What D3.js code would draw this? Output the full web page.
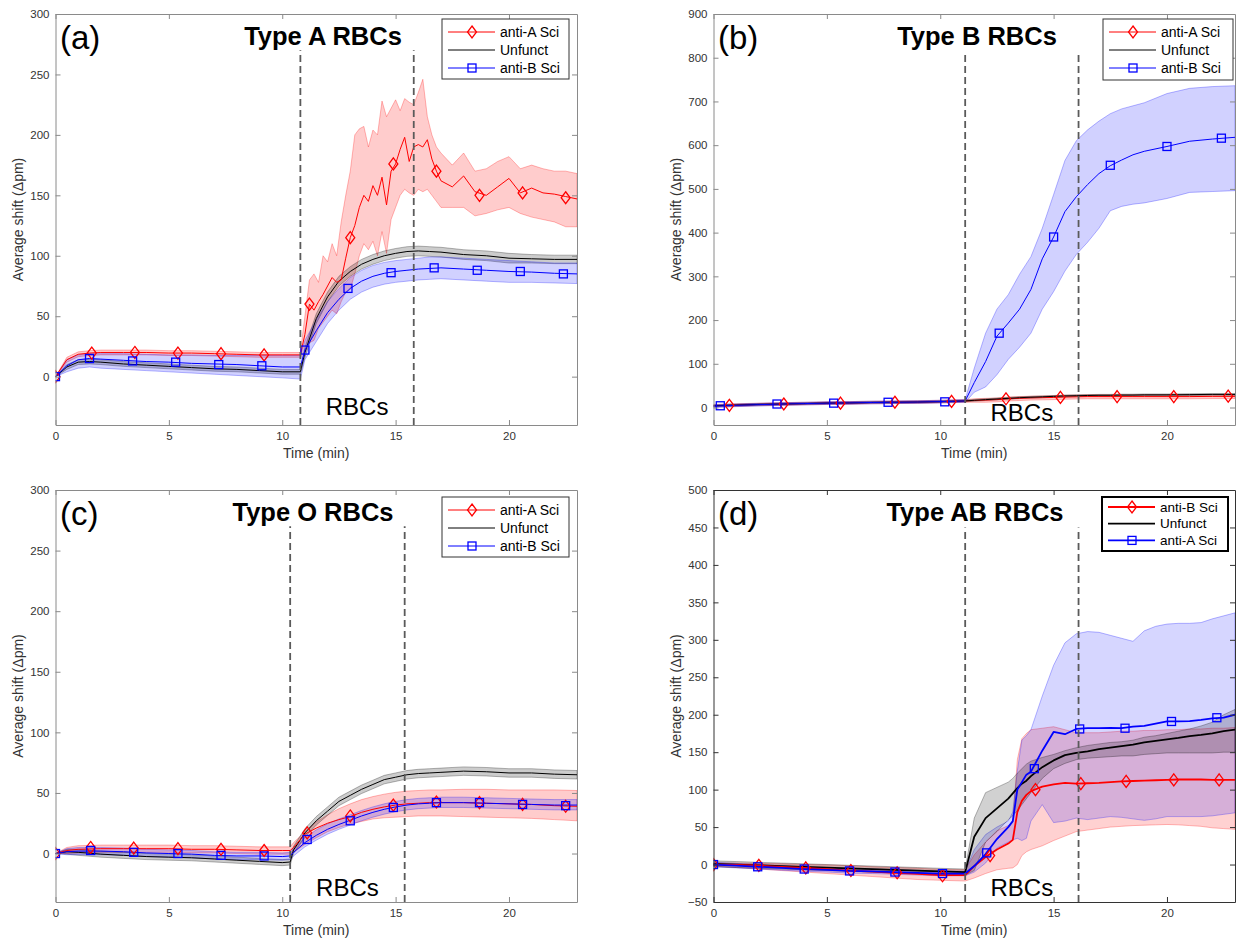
<!DOCTYPE html>
<html>
<head>
<meta charset="utf-8">
<script src="https://cdn.jsdelivr.net/npm/d3@7"></script>
<style>
body { margin: 0; background: #fff; }
text { font-family: "Liberation Sans", Arial, Helvetica, sans-serif; }
</style>
</head>
<body>
<svg id="fig" width="1236" height="940"></svg>
<script>

// ---------- panel (a) : Type A RBCs ----------
var tA = [0,0.5,1,1.5,2,3,4,5,6,7,8,9,10,10.8,11,11.5,12,12.5,13,13.5,14,14.5,15,15.5,16,16.5,17,18,19,20,21,22,23]
var aBlackMean = [0,8,12,12.5,12,10.5,9.5,8.5,7.5,6.5,6,5,4,4,20,48,66,79,87,93,97,100,102,103.5,104,103.5,103,101,100,98,97.5,97,97]
var aBlackLo = [0,6,10,10.5,10,8.5,7.5,6.5,5.5,4.5,4,3,2,2,16,44,62,75,83,89,93,96,98,99.5,100,99.5,99,97,96,94,94,93.5,93.5]
var aBlackHi = [0,10,14,14.5,14,12.5,11.5,10.5,9.5,8.5,8,7,6,6,24,52,70,83,91,97,101,104,106,107.5,108,107.5,107,105,104,102,101,100.5,100.5]
var aBlueMean = [0,9,14,15,14.5,13.5,12.5,12,11,10.5,10,9,8,8,22,38,53,64,73,79,83,85.5,87,88,89,89.5,90,89,88,87,86.5,85.5,85]
var aBlueLo = [0,4,7,8,7,6,5,4,3,2,1,0,-1,-2,14,29,44,55,64,70,74,76.5,78,79,80,80.5,81,80,79,78,78,77.5,77]
var aBlueHi = [0,14,18,19,19,19,18.5,18,18,17.5,17.5,17.5,17.5,17.5,30,47,62,73,82,88,92,94.5,96,97,98,99,99,98,97,96,95,94,94]

var tAr = [0,0.5,1,1.5,2,3,4,5,6,7,8,9,10,10.8,
  11,11.2,11.4,11.6,11.8,12,12.2,12.4,12.6,12.8,13,13.2,13.4,13.6,13.8,14,14.2,14.4,14.6,14.8,15,15.2,15.4,15.6,15.8,16,16.2,16.4,16.6,16.8,17,
  17.5,18,18.5,19,19.5,20,20.5,21,21.5,22,22.5,23]
var aRedMean = [0,14,18.5,19.5,20,20,20,19.5,19.5,19,18.5,18,18,18,
  35,60,55,62,68,75,82,78,80,98,115,125,140,150,145,158,150,165,142,170,176,188,198,178,190,192,190,196,180,170,162,
  157,166,153,150,157,164,152,156,152,151,149,147]
var aRedLo = [0,12,16.5,17.5,18,18,18,17.5,17.5,17,16.5,16,16,16,
  20,28,30,40,45,50,55,52,62,70,72,85,100,110,105,112,100,120,102,130,140,150,155,152,150,155,153,155,150,145,140,
  140,140,133,135,138,140,135,132,130,128,124,124]
var aRedHi = [0,16,20.5,21.5,22,22,22,21.5,21.5,21,20.5,20,20,20,
  50,80,85,78,100,95,110,100,128,150,170,200,205,207,190,204,200,228,215,222,229,220,230,227,225,235,246,215,200,190,185,
  175,185,170,172,178,182,172,175,172,170,170,168]

var aRedMarks = [[0,0],[1.6,19.5],[3.5,20],[5.4,19.5],[7.3,19],[9.2,18],[11.2,60],[13.0,115],[14.9,176],[16.8,170],[18.7,150],[20.6,152],[22.5,148]]
var aBlueMarks = [[0,0],[1.5,15],[3.4,13],[5.3,12],[7.2,10],[9.1,9],[11.0,22],[12.9,73],[14.8,86],[16.7,90],[18.6,88],[20.5,87],[22.4,85]]

// ---------- panel (b) : Type B RBCs ----------
var tB = [0,1,2,3,4,5,6,7,8,9,10,11.1,11.5,12,12.5,13,13.5,14,14.5,15,15.5,16,16.5,17,17.5,18,18.5,19,20,21,22,23]
var bBlueMean = [3,5,6.5,8,9,10,10.5,11.5,12,12.5,13.5,15,57,105,163,193,225,270,340,390,448,482,510,535,553,566,578,586,597,609,614,618]
var bBlueLo = [0,2,3.5,5,6,7,7.5,8.5,9,9.5,10.5,12,35,47,75,110,138,170,225,265,312,350,378,410,450,460,465,468,478,492,494,496]
var bBlueHi = [6,8,9.5,11,12,13,13.5,14.5,15,15.5,16.5,18,90,170,225,258,305,345,410,487,565,610,635,655,672,683,690,697,718,730,734,736]
var bRedMean = [4,5.5,7,8,9,10,10.5,11.5,12,12.5,13.5,15,16,17,18,20,21,22,22.5,23,24,24.5,25,25,25,25,25,25,25,25,25.5,25.5]
var bRedLo = [1,2.5,4,5,6,7,7.5,8.5,9,9.5,10.5,12,12,12,13,15,16,17,17.5,18,19,19.5,20,20,20,20,20,20,20,20,20.5,20.5]
var bRedHi = [7,8.5,10,11,12,13,13.5,14.5,15,15.5,16.5,18,20,21,22,24,25,26,26.5,27,28,28.5,29,29,29,29,29,29,29,29,29.5,29.5]
var bBlackMean = [4,5.5,7,8,9,10,10.5,11.5,12,12.5,13.5,15,16.5,18,19.5,21,22.5,23.5,24.5,25.5,26.5,27,27.5,28,28,28.5,28.5,29,29,29.5,30,30]
var bBlackLo = [2,3.5,5,6,7,8,8.5,9.5,10,10.5,11.5,13,14.5,16,17.5,19,20.5,21.5,22.5,23.5,24.5,25,25.5,26,26,26.5,26.5,27,27,27.5,28,28]
var bBlackHi = [6,7.5,9,10,11,12,12.5,13.5,14,14.5,15.5,17,18.5,20,21.5,23,24.5,25.5,26.5,27.5,28.5,29,29.5,30,30,30.5,30.5,31,31,31.5,32,32]

var bRedMarks = [[0.7,5],[3.1,8],[5.6,10],[8.0,12],[10.5,14],[12.9,20],[15.3,23],[17.8,25],[20.3,25],[22.7,26]]
var bBlueMarks = [[0.3,4],[2.8,8],[5.3,10],[7.7,12],[10.2,13],[12.6,170],[15.0,390],[17.5,554],[20.0,597],[22.4,616]]

// ---------- panel (c) : Type O RBCs ----------
var tC = [0,0.5,1,2,3,4,5,6,7,8,9,10,10.35,10.5,11,11.5,12,12.5,13,13.5,14,14.5,15,15.5,16,16.5,17,18,19,20,21,22,23]
var cBlackMean = [0,1.5,1,-0.5,-1.5,-2.5,-3,-3.5,-4.5,-5.5,-6.5,-7.5,-7,3,17,27,35,43,48,53,57,61,63,65,66,66.5,67,68,67.5,66.5,66.5,65.5,65]
var cBlackLo = [0,-0.5,-1.5,-3,-4,-5,-5.5,-6,-7,-8,-9,-10,-9.5,0,13.5,23.5,31.5,39.5,44.5,49.5,53.5,57.5,59.5,61.5,62.5,63,63.5,64.5,64,63,63,62,61.5]
var cBlackHi = [0,3.5,3.5,2,1,0,-0.5,-1,-2,-3,-4,-5,-4.5,6,20.5,30.5,38.5,46.5,51.5,56.5,60.5,64.5,66.5,68.5,69.5,70,70.5,71.5,71,70,70,69,68.5]
var cRedMean = [0,2.5,3.5,4,4,4,4,3.5,3.5,3,2.5,2.5,2.5,5,16,21,25,28,30.5,34,36.5,38.5,40,41,41.5,42,42,42,41.5,41,40.5,39.5,39]
var cRedLo = [0,0,0.5,1,1,1,1,0.5,0.5,0,-0.5,-0.5,-0.5,1,7.5,13,18,21.5,24.5,26.5,28.5,29.5,30,30.5,31,31,31,30.5,30,29.5,29,28,27]
var cRedHi = [0,5,6.5,7,7,7,7,6.5,6.5,6,5.5,5.5,5.5,9,18,26,32,37,41,44.5,47,49,50.5,51.5,52,52.5,52.5,53,53,52.5,52.5,52.5,52]
var cBlueMean = [0,1.5,2,2,1.5,0.5,0,-0.5,-1.5,-2,-2,-2.5,-2,1,9,15,20,24,27.5,31,34,36.5,38.5,40,41,41.5,42,42,41.5,41,40.5,40,40]
var cBlueLo = [0,-1,-1,-1,-1.5,-2.5,-3,-3.5,-4.5,-5,-5,-5.5,-5,-2,5.5,11,16,20,23.5,27,30,32.5,34.5,36,37,37.5,38,38,37.5,37,36.5,36,36]
var cBlueHi = [0,4,5,5,4.5,3.5,3,2.5,1.5,1,1,0.5,1,4,13,19.5,24.5,28.5,32,35.5,38.5,41,43,44.5,45.5,46,46.5,46.5,46,45.5,45,44.5,44.5]

var cRedMarks = [[0,0],[1.55,5],[3.45,4.5],[5.4,4],[7.3,3.5],[9.2,2.5],[11.1,17],[13.0,31],[14.9,40],[16.8,42.5],[18.7,42],[20.6,40.5],[22.5,39]]
var cBlueMarks = [[0,0],[1.55,2.5],[3.45,1],[5.4,0],[7.3,-1.5],[9.2,-2],[11.1,11.6],[13.0,27],[14.9,38],[16.8,42],[18.7,42],[20.6,40.5],[22.5,39.5]]

// ---------- panel (d) : Type AB RBCs ----------
var tD = [0,1,2,3,4,5,6,7,8,9,10,11.1,11.5,12,12.5,13,13.2,13.4,13.6,13.8,14,14.5,15,15.5,16,16.5,17,17.5,18,18.5,19,19.5,20,20.5,21,21.5,22,22.5,23]
var dBlackMean = [1,0,-1,-2,-3,-4,-5,-6,-7,-8,-9,-10,37,62,75,88,95,102,108,112,118,130,139,146,149,151,154,156,158,160,163,165,167,169,171.5,173,175,178,180]
var dBlackLo = [-3,-4,-5,-6,-7,-8,-9,-10,-11,-12,-13,-14,-8,30,44,60,65,72,80,88,96,115,128,135,140,142,143,144,145,145,147,148,149,149,149,149,149,150,150]
var dBlackHi = [5,4,3,2,1,0,-1,-2,-3,-4,-5,-6,62,96,103,110,115,122,128,134,138,143,147,152,156,159,161,163,164,166,170,172,175,178,181,185,190,200,207]
var dRedMean = [0,-0.5,-1.5,-3,-4.5,-6,-8,-9.5,-11,-12.5,-14,-14,-2,10,20,28,33,70,85,93,98,104,107,109,108,108.5,109,110,111,111.5,112,112.5,113,113.5,113.5,113.5,113,113,113]
var dRedLo = [-2,-4,-6,-8,-10,-12,-14,-16,-18,-20,-21,-22,-18,-12,-7,-5,-4.5,0,12,17,20,25,32,38,44,46,48,50,51,52,52.5,53,53.5,53,52,51,49,48,47]
var dRedHi = [2,2,1.5,1,0,-0.5,-1.5,-3,-4,-5,-6.5,-7,13,30,45,52,57,140,168,175,180,182,184,180,176,176,176,177,178,178,179,179,180,180,181,181,182,182,183]
var dBlueMean = [0,-1.5,-3,-4.5,-6,-7,-8.5,-9,-10,-11,-12,-12,-2,14,34,50,58,100,110,120,124,152,177,174,181,182,182,182.5,182,184,185,188,191,191,191.5,193,195,196,200]
var dBlueLo = [-3,-4.5,-6,-7.5,-9,-10,-11.5,-12,-13,-14,-15,-15,-10,2,22,30,33,35,32,35,58,80,56,58,62,60,62,64,63,61,59,61,64,64,64,64,65,67,69]
var dBlueHi = [3,1.5,0,-1.5,-3,-4,-5.5,-6,-7,-8,-9,-9,20,40,50,58,70,125,166,172,180,225,266,296,308,311,310,306,302,298,312,318,321,322,322,323,328,332,336]

var dRedMarks = [[0,0],[2.0,-1],[4.07,-4.5],[6.06,-8],[8.1,-11],[10.1,-15],[12.2,12],[14.2,100],[16.2,108],[18.2,111],[20.3,113],[22.3,113]]
var dBlueMarks = [[0,0],[1.95,-3],[4.0,-6],[6.0,-8.5],[8.0,-10],[10.1,-12],[12.05,15.6],[14.15,128],[16.15,181],[18.15,182],[20.2,191],[22.2,196]]

var xTicks = [0,5,10,15,20]

var RED = "#ff0000", BLUE = "#0000ff", BLACK = "#000000"
var svg = d3.select("#fig")

function mk(t, mean, lo, hi, color, fop, marker, marks) {
	return {t: t, mean: mean, lo: lo, hi: hi, color: color, fop: fop, marker: marker, marks: marks}
}

function drawMarker(g, type, cx, cy, color, w) {
	if (type == "diamond") {
		g.append("path").attr("d", "M" + cx + "," + (cy - 6) + "L" + (cx + 4.5) + "," + cy + "L" + cx + "," + (cy + 6) + "L" + (cx - 4.5) + "," + cy + "Z")
			.attr("fill", "none").attr("stroke", color).attr("stroke-width", w)
	} else if (type == "square") {
		g.append("rect").attr("x", cx - 4).attr("y", cy - 4).attr("width", 8).attr("height", 8)
			.attr("fill", "none").attr("stroke", color).attr("stroke-width", w)
	}
}

function drawPanel(p) {
	var x = d3.scaleLinear().domain([0, 23]).range([p.left, p.right])
	var y = d3.scaleLinear().domain([p.ymin, p.ymax]).range([p.bottom, p.top])
	var g = svg.append("g")

	g.append("clipPath").attr("id", "clip" + p.id)
		.append("rect").attr("x", p.left).attr("y", p.top).attr("width", p.right - p.left).attr("height", p.bottom - p.top)
	var plot = g.append("g").attr("clip-path", "url(#clip" + p.id + ")")

	// shaded bands
	p.bandOrder.forEach(function(k) {
		var s = p.series[k]
		var rows = s.t.map(function(t, i) { return {t: t, lo: s.lo[i], hi: s.hi[i]} })
		plot.append("path").datum(rows)
			.attr("d", d3.area().x(function(d) { return x(d.t) }).y0(function(d) { return y(d.lo) }).y1(function(d) { return y(d.hi) }))
			.attr("fill", s.color).attr("fill-opacity", s.fop)
			.attr("stroke", s.color).attr("stroke-opacity", 0.28).attr("stroke-width", 1)
	})

	// mean lines
	p.lineOrder.forEach(function(k) {
		var s = p.series[k]
		var rows = s.t.map(function(t, i) { return {t: t, v: s.mean[i]} })
		plot.append("path").datum(rows)
			.attr("d", d3.line().x(function(d) { return x(d.t) }).y(function(d) { return y(d.v) }))
			.attr("fill", "none").attr("stroke", s.color).attr("stroke-width", p.lw).attr("stroke-linejoin", "round")
	})

	// markers
	p.lineOrder.forEach(function(k) {
		var s = p.series[k]
		if (!s.marks) return
		s.marks.forEach(function(m) { drawMarker(plot, s.marker, x(m[0]), y(m[1]), s.color, 1.3) })
	})

	// injection window
	p.dashes.forEach(function(t) {
		plot.append("line").attr("x1", x(t)).attr("x2", x(t)).attr("y1", p.bottom).attr("y2", y(p.ymax * 0.9))
			.attr("stroke", "#5a5a5a").attr("stroke-width", 1.8).attr("stroke-dasharray", "7,4")
	})
	g.append("text").attr("x", x((p.dashes[0] + p.dashes[1]) / 2)).attr("y", p.bottom - p.rbcGap)
		.attr("text-anchor", "middle").style("font-size", "24px").attr("fill", "#000").text("RBCs")

	// axes (MATLAB box style, ticks inward)
	function style(a) {
		a.attr("font-family", null).attr("font-size", null)
		a.select(".domain").attr("stroke", p.axisColor)
		a.selectAll(".tick line").attr("stroke", p.axisColor)
		a.selectAll(".tick text").attr("fill", "#333").style("font-size", "11.5px")
	}
	g.append("g").attr("transform", "translate(0," + p.bottom + ")")
		.call(d3.axisBottom(x).tickValues(xTicks).tickSizeInner(-5).tickSizeOuter(0).tickPadding(7)).call(style)
	g.append("g").attr("transform", "translate(0," + p.top + ")")
		.call(d3.axisTop(x).tickValues(xTicks).tickSizeInner(-5).tickSizeOuter(0).tickFormat("")).call(style)
	g.append("g").attr("transform", "translate(" + p.left + ",0)")
		.call(d3.axisLeft(y).tickValues(p.yTicks).tickSizeInner(-5).tickSizeOuter(0).tickPadding(6)).call(style)
	g.append("g").attr("transform", "translate(" + p.right + ",0)")
		.call(d3.axisRight(y).tickValues(p.yTicks).tickSizeInner(-5).tickSizeOuter(0).tickFormat("")).call(style)

	g.append("text").attr("transform", "translate(" + (p.left - 37) + "," + ((p.top + p.bottom) / 2) + ") rotate(-90)")
		.attr("text-anchor", "middle").attr("dy", "0.35em").style("font-size", "14px").attr("fill", "#333")
		.text("Average shift (\u0394pm)")
	g.append("text").attr("x", (p.left + p.right) / 2).attr("y", p.bottom + 33)
		.attr("text-anchor", "middle").style("font-size", "14px").attr("fill", "#333").text("Time (min)")

	// panel letter and title
	g.append("text").attr("x", p.left + 4.5).attr("y", p.top + 35).style("font-size", "33px").attr("fill", "#000").text(p.letter)
	g.append("text").attr("x", p.titleX).attr("y", p.top + 30.5).attr("text-anchor", "middle")
		.style("font-size", "25.5px").style("font-weight", "bold").attr("fill", "#000").text(p.title)

	// legend
	var L = p.legend
	var lg = g.append("g")
	lg.append("rect").attr("x", L.x).attr("y", L.y).attr("width", L.w).attr("height", L.h)
		.attr("fill", "#fff").attr("stroke", L.stroke).attr("stroke-width", L.sw)
	p.legendOrder.forEach(function(k, i) {
		var s = p.series[k]
		var ry = L.y + L.first + i * L.step
		lg.append("line").attr("x1", L.x + 6).attr("x2", L.x + 53).attr("y1", ry).attr("y2", ry)
			.attr("stroke", s.color).attr("stroke-width", p.lw)
		if (s.marks) drawMarker(lg, s.marker, L.x + 30, ry, s.color, 1.3)
		lg.append("text").attr("x", L.x + 58).attr("y", ry).attr("dy", "0.35em")
			.style("font-size", L.fs).attr("fill", "#000").text(p.names[i])
	})
}

drawPanel({
	id: "a", left: 55.5, right: 577, top: 14, bottom: 425, ymin: -40, ymax: 300,
	yTicks: [0,50,100,150,200,250,300], dashes: [10.8, 15.8], rbcGap: 10,
	letter: "(a)", title: "Type A RBCs", titleX: 323, axisColor: "#8a8a8a", lw: 1,
	series: {
		red: mk(tAr, aRedMean, aRedLo, aRedHi, RED, 0.2, "diamond", aRedMarks),
		black: mk(tA, aBlackMean, aBlackLo, aBlackHi, BLACK, 0.2, null, null),
		blue: mk(tA, aBlueMean, aBlueLo, aBlueHi, BLUE, 0.18, "square", aBlueMarks)
	},
	bandOrder: ["red", "black", "blue"], lineOrder: ["black", "red", "blue"],
	legendOrder: ["red", "black", "blue"], names: ["anti-A Sci", "Unfunct", "anti-B Sci"],
	legend: {x: 442, y: 19, w: 127, h: 60, first: 13, step: 18, fs: "14px", stroke: "#333", sw: 1}
})

drawPanel({
	id: "b", left: 713.5, right: 1235, top: 14, bottom: 425, ymin: -40, ymax: 900,
	yTicks: [0,100,200,300,400,500,600,700,800,900], dashes: [11.1, 16.1], rbcGap: 4,
	letter: "(b)", title: "Type B RBCs", titleX: 977, axisColor: "#8a8a8a", lw: 1,
	series: {
		red: mk(tB, bRedMean, bRedLo, bRedHi, RED, 0.2, "diamond", bRedMarks),
		black: mk(tB, bBlackMean, bBlackLo, bBlackHi, BLACK, 0.2, null, null),
		blue: mk(tB, bBlueMean, bBlueLo, bBlueHi, BLUE, 0.18, "square", bBlueMarks)
	},
	bandOrder: ["red", "black", "blue"], lineOrder: ["red", "black", "blue"],
	legendOrder: ["red", "black", "blue"], names: ["anti-A Sci", "Unfunct", "anti-B Sci"],
	legend: {x: 1103, y: 19, w: 130, h: 61, first: 13, step: 18, fs: "14px", stroke: "#333", sw: 1}
})

drawPanel({
	id: "c", left: 55.5, right: 577, top: 490, bottom: 902, ymin: -40, ymax: 300,
	yTicks: [0,50,100,150,200,250,300], dashes: [10.35, 15.4], rbcGap: 6,
	letter: "(c)", title: "Type O RBCs", titleX: 313, axisColor: "#8a8a8a", lw: 1,
	series: {
		red: mk(tC, cRedMean, cRedLo, cRedHi, RED, 0.2, "diamond", cRedMarks),
		black: mk(tC, cBlackMean, cBlackLo, cBlackHi, BLACK, 0.2, null, null),
		blue: mk(tC, cBlueMean, cBlueLo, cBlueHi, BLUE, 0.18, "square", cBlueMarks)
	},
	bandOrder: ["red", "black", "blue"], lineOrder: ["black", "red", "blue"],
	legendOrder: ["red", "black", "blue"], names: ["anti-A Sci", "Unfunct", "anti-B Sci"],
	legend: {x: 442, y: 497, w: 127, h: 60, first: 13, step: 18, fs: "14px", stroke: "#333", sw: 1}
})

drawPanel({
	id: "d", left: 713.5, right: 1235, top: 490, bottom: 902, ymin: -50, ymax: 500,
	yTicks: [-50,0,50,100,150,200,250,300,350,400,450,500], dashes: [11.1, 16.1], rbcGap: 6,
	letter: "(d)", title: "Type AB RBCs", titleX: 975, axisColor: "#333", lw: 1.8,
	series: {
		red: mk(tD, dRedMean, dRedLo, dRedHi, RED, 0.18, "diamond", dRedMarks),
		black: mk(tD, dBlackMean, dBlackLo, dBlackHi, BLACK, 0.18, null, null),
		blue: mk(tD, dBlueMean, dBlueLo, dBlueHi, BLUE, 0.16, "square", dBlueMarks)
	},
	bandOrder: ["red", "blue", "black"], lineOrder: ["black", "red", "blue"],
	legendOrder: ["red", "black", "blue"], names: ["anti-B Sci", "Unfunct", "anti-A Sci"],
	legend: {x: 1102, y: 497, w: 126, h: 54, first: 10, step: 16.7, fs: "13.5px", stroke: "#000", sw: 2}
})

</script>
</body>
</html>
